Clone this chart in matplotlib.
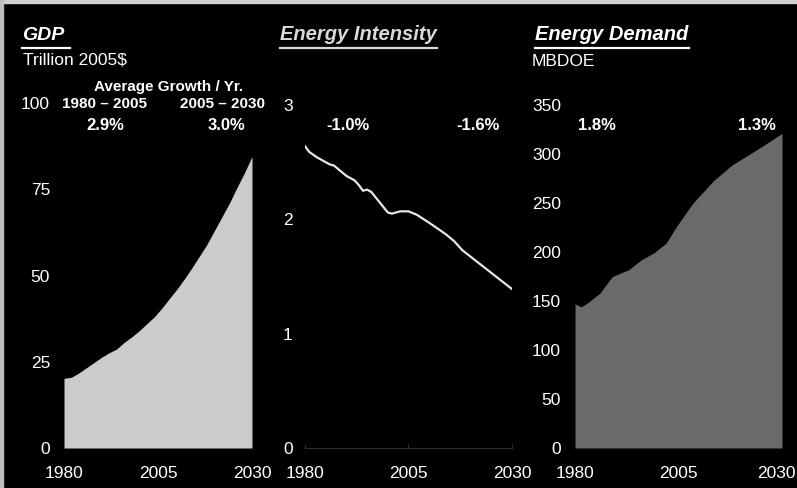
import matplotlib

matplotlib.use("Agg")
import matplotlib.pyplot as plt
from matplotlib.patches import Rectangle
from matplotlib.lines import Line2D

W, H = 797, 488

# GDP, Trillion 2005$
gdp_years = [1980, 1982, 1984, 1986, 1988, 1990, 1992, 1994, 1996, 1998, 2000, 2002,
             2004, 2006, 2008, 2010, 2012, 2014, 2016, 2018, 2020, 2022, 2024, 2026,
             2028, 2030]
gdp_vals = [20.2, 20.5, 21.8, 23.3, 24.8, 26.3, 27.6, 28.7, 30.6, 32.2, 34.0, 36.0,
            38.0, 40.5, 43.3, 46.0, 49.0, 52.2, 55.6, 59.0, 63.0, 67.0, 71.0, 75.5,
            79.8, 84.5]

# Energy intensity
ei_years = [1980, 1981, 1983, 1986, 1987, 1990, 1992, 1993, 1994, 1995, 1996, 1998,
            2000, 2001, 2003, 2005, 2007, 2010, 2014, 2016, 2018, 2024, 2030]
ei_vals = [2.64, 2.59, 2.54, 2.48, 2.47, 2.38, 2.34, 2.30, 2.25, 2.26, 2.24, 2.15,
           2.06, 2.05, 2.07, 2.07, 2.04, 1.97, 1.87, 1.81, 1.73, 1.56, 1.39]

# Energy demand, MBDOE
ed_years = [1980, 1981.5, 1983, 1986, 1989, 1993, 1996, 1999, 2002, 2004.5, 2008.5,
            2013.5, 2018, 2024.5, 2030]
ed_vals = [147, 144, 148, 158, 175, 182, 192, 199, 209, 226, 250, 273, 289, 306, 321]

gdp_ticks = [0, 25, 50, 75, 100]
ei_ticks = [0, 1, 2, 3]
ed_ticks = [0, 50, 100, 150, 200, 250, 300, 350]
year_ticks = [1980, 2005, 2030]

FONT = "Liberation Sans"
plt.rcParams["font.family"] = [FONT, "DejaVu Sans"]


def px(x, y):
    return x / W, 1 - y / H


def make_ax(fig, x0, x1, y0, y1):
    # Pixelkoordinaten -> Figure-Anteile
    ax = fig.add_axes([x0 / W, 1 - y1 / H, (x1 - x0) / W, (y1 - y0) / H])
    ax.set_facecolor("black")
    ax.patch.set_alpha(0)
    for s in ax.spines.values():
        s.set_visible(False)
    ax.set_xlim(1980, 2030)
    ax.set_xticks(year_ticks)
    ax.tick_params(axis="y", length=0, colors="white", labelsize=12.5, pad=10)
    ax.tick_params(axis="x", length=0, colors="white", labelsize=12.5, pad=13)
    return ax


fig = plt.figure(figsize=(W / 100, H / 100), dpi=100, facecolor="black")

# GDP
ax1 = make_ax(fig, 64, 252, 103, 448)
ax1.fill_between(gdp_years, gdp_vals, 0, color="#cbcbcb", linewidth=0)
ax1.set_ylim(0, 100)
ax1.set_yticks(gdp_ticks)

# Energy Intensity
ax2 = make_ax(fig, 305, 512, 105, 448)
ax2.plot(ei_years, ei_vals, color="#e6e6e6", linewidth=1.6)
ax2.set_ylim(0, 3)
ax2.set_yticks(ei_ticks)
ax2.spines["bottom"].set_visible(True)
ax2.spines["bottom"].set_color("#2e2e2e")
ax2.tick_params(axis="x", length=3, direction="in", color="#2e2e2e")
ax2.tick_params(axis="y", pad=9)

# Energy Demand – 2030 rechts bündig, sonst am Rand abgeschnitten
ax3 = make_ax(fig, 575, 782, 105, 448)
ax3.fill_between(ed_years, ed_vals, 0, color="#6a6a6a", linewidth=0)
ax3.set_ylim(0, 350)
ax3.set_yticks(ed_ticks)
ax3.set_xticks(year_ticks[:-1])
ax3.tick_params(axis="y", pad=10)
fig.text(*px(796, 473), str(year_ticks[-1]), fontsize=12.5, color="white",
         ha="right", va="center")

# Titel (fett, kursiv, unterstrichen)
titles = [("GDP", 22, 14, "white", 70), ("Energy Intensity", 280, 14.5, "#d9d9d9", 437),
          ("Energy Demand", 535, 14.5, "white", 689)]
for label, x, size, col, x_end in titles:
    fig.text(*px(x, 35), label, fontsize=size, fontweight="bold", fontstyle="italic",
             color=col, ha="left", va="center")
    fig.add_artist(Line2D([x / W, x_end / W], [1 - 48 / H] * 2, color=col, linewidth=1.6,
                          transform=fig.transFigure))

fig.text(*px(23, 60), "Trillion 2005$", fontsize=12.5, color="white", va="center")
fig.text(*px(532, 61), "MBDOE", fontsize=12.5, color="white", va="center")

bold = dict(fontweight="bold", color="white", ha="center", va="center")
fig.text(*px(169, 87), "Average Growth / Yr.", fontsize=11, **bold)
fig.text(*px(105, 104), "1980 – 2005", fontsize=11, **bold)
fig.text(*px(222, 104), "2005 – 2030", fontsize=11, **bold)

growth = [("2.9%", 105), ("3.0%", 227), ("-1.0%", 348), ("-1.6%", 478),
          ("1.8%", 597), ("1.3%", 757)]
for label, x in growth:
    fig.text(*px(x, 126), label, fontsize=12, **bold)

# heller Rand oben/links wie im Scan
fig.patches.append(Rectangle((0, 1 - 3 / H), 1, 3 / H, transform=fig.transFigure,
                             color="#cfcfcf", zorder=10))
fig.patches.append(Rectangle((0, 0), 3 / W, 1, transform=fig.transFigure,
                             color="#bdbdbd", zorder=10))

fig.savefig("out.png", dpi=100, facecolor="black")
